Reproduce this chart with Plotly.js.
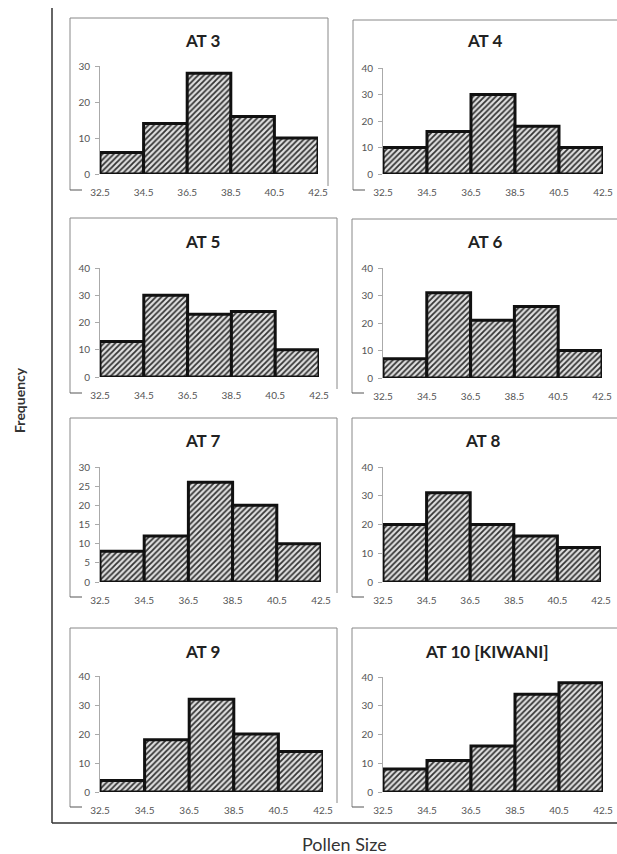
<!DOCTYPE html>
<html>
<head>
<meta charset="utf-8">
<script src="https://cdn.plot.ly/plotly-3.0.1.min.js"></script>
<style>html,body{margin:0;padding:0;background:#fff;}#chart{width:617px;height:854px;}</style>
</head>
<body>
<div id="chart"></div>
<script>
// ---- data ----
const binEdges = [32.5, 34.5, 36.5, 38.5, 40.5, 42.5];
const binLabels = ['32.5', '34.5', '36.5', '38.5', '40.5', '42.5'];
const binCenters = [33.5, 35.5, 37.5, 39.5, 41.5];
const panelTitles = ['AT 3', 'AT 4', 'AT 5', 'AT 6', 'AT 7', 'AT 8', 'AT 9', 'AT 10 [KIWANI]'];
const at3 = [6, 14, 28, 16, 10];
const at4 = [10, 16, 30, 18, 10];
const at5 = [13, 30, 23, 24, 10];
const at6 = [7, 31, 21, 26, 10];
const at7 = [8, 12, 26, 20, 10];
const at8 = [20, 31, 20, 16, 12];
const at9 = [4, 18, 32, 20, 14];
const at10 = [8, 11, 16, 34, 38];
const seriesList = [at3, at4, at5, at6, at7, at8, at9, at10];
const yMax = [30, 40, 40, 40, 30, 40, 40, 40];
const yStep = [10, 10, 10, 10, 5, 10, 10, 10];
const xAxisTitle = 'Pollen Size';
const yAxisTitle = 'Frequency';

// ---- layout geometry (pixels) ----
const W = 617, H = 854;
const px = v => v / W;
const py = v => 1 - v / H;
const geom = [
  {x0:100, x1:318, y0:174, y1:66,  tx:202, ty:41,  box:[70, 18, 328, 190]},
  {x0:383, x1:603, y0:174, y1:68,  tx:484, ty:41,  box:[353, 20, 640, 190]},
  {x0:100, x1:319, y0:377, y1:268, tx:202, ty:242, box:[70, 218, 337, 393]},
  {x0:383, x1:602, y0:378, y1:268, tx:484, ty:242, box:[352, 219, 640, 393]},
  {x0:100, x1:321, y0:582, y1:467, tx:202, ty:440, box:[70, 418, 337, 597]},
  {x0:383, x1:601, y0:582, y1:467, tx:482, ty:440, box:[352, 418, 640, 597]},
  {x0:100, x1:323, y0:792, y1:676, tx:202, ty:651, box:[70, 628, 337, 807]},
  {x0:383, x1:603, y0:792, y1:677, tx:487, ty:651, box:[352, 628, 640, 807]}
];

const FONT = 'Lato, "Open Sans", sans-serif';
const traces = [];
const layout = {
  width: W, height: H,
  margin: {l:0, r:0, t:0, b:0},
  paper_bgcolor: '#fff', plot_bgcolor: 'rgba(0,0,0,0)',
  showlegend: false,
  bargap: 0,
  font: {family: FONT, color: '#444'},
  shapes: [], annotations: []
};

seriesList.forEach((vals, i) => {
  const g = geom[i];
  const n = i + 1;
  const xa = n === 1 ? 'x' : 'x' + n;
  const ya = n === 1 ? 'y' : 'y' + n;
  traces.push({
    type: 'bar',
    x: binCenters, y: vals, width: 2,
    xaxis: xa, yaxis: ya,
    cliponaxis: false,
    hoverinfo: 'skip',
    marker: {
      color: '#999',
      line: {color: '#111', width: 3},
      pattern: {shape: '/', fgcolor: '#333', bgcolor: '#e0e0e0', size: 4, solidity: 0.45}
    }
  });
  layout['xaxis' + (n === 1 ? '' : n)] = {
    domain: [px(g.x0), px(g.x1)],
    anchor: ya,
    range: [binEdges[0], binEdges[binEdges.length - 1]],
    tickmode: 'array', tickvals: binEdges, ticktext: binLabels,
    showgrid: false, zeroline: false, showline: false,
    ticks: '', ticklabelstandoff: 11, ticklabeloverflow: 'allow',
    tickfont: {size: 10, color: '#555', family: FONT},
    fixedrange: true
  };
  layout['yaxis' + (n === 1 ? '' : n)] = {
    domain: [py(g.y0), py(g.y1)],
    anchor: xa,
    range: [0, yMax[i]], dtick: yStep[i], tick0: 0,
    showgrid: false, zeroline: false,
    showline: true, linecolor: '#aaa', linewidth: 1,
    ticks: 'outside', ticklen: 4, tickcolor: '#aaa', ticklabelstandoff: 3,
    tickfont: {size: 10, color: '#555', family: FONT},
    fixedrange: true
  };
  layout.annotations.push({
    xref: 'paper', yref: 'paper', x: px(g.tx), y: py(g.ty),
    xanchor: 'center', yanchor: 'middle', showarrow: false,
    text: '<b>' + panelTitles[i] + '</b>',
    font: {size: 17, color: '#222', family: FONT}
  });
  const [bx0, by0, bx1, by1] = g.box;
  const lineStyle = {color: '#888', width: 1};
  layout.shapes.push(
    {type:'line', xref:'paper', yref:'paper', x0:px(bx0), x1:px(bx0), y0:py(by0), y1:py(by1), line:lineStyle},
    {type:'line', xref:'paper', yref:'paper', x0:px(bx0), x1:px(bx1), y0:py(by0), y1:py(by0), line:lineStyle},
    {type:'line', xref:'paper', yref:'paper', x0:px(bx1), x1:px(bx1), y0:py(by0), y1:py(by1 - 4), line:lineStyle},
    {type:'line', xref:'paper', yref:'paper', x0:px(bx0), x1:px(bx0 + 12), y0:py(by1), y1:py(by1), line:{color:'#555', width:1}}
  );
});

// outer frame
layout.shapes.push(
  {type:'line', xref:'paper', yref:'paper', x0:px(52), x1:px(52), y0:py(8), y1:py(823), line:{color:'#333', width:1.5}},
  {type:'line', xref:'paper', yref:'paper', x0:px(52), x1:px(640), y0:py(823), y1:py(823), line:{color:'#333', width:1.5}}
);
layout.annotations.push(
  {xref:'paper', yref:'paper', x:px(19), y:py(400), xanchor:'center', yanchor:'middle', showarrow:false,
   textangle:-90, text:'<b>' + yAxisTitle + '</b>', font:{size:14, color:'#333', family:FONT}},
  {xref:'paper', yref:'paper', x:px(344), y:py(844), xanchor:'center', yanchor:'middle', showarrow:false,
   text: xAxisTitle, font:{size:18, color:'#333', family:FONT}}
);

Plotly.newPlot('chart', traces, layout, {staticPlot: true, displayModeBar: false});
</script>
</body>
</html>
